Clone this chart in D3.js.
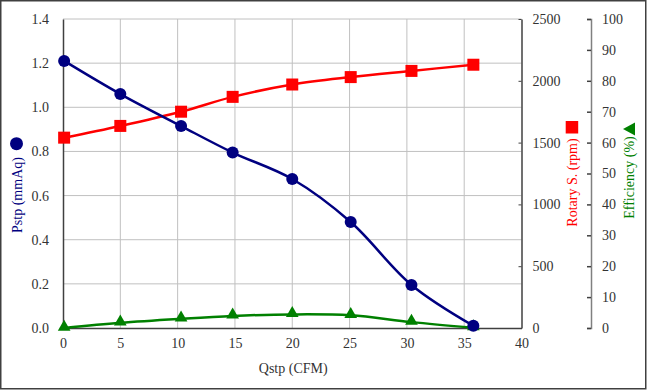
<!DOCTYPE html>
<html><head><meta charset="utf-8">
<script src="https://cdn.jsdelivr.net/npm/d3@7"></script>
<style>body{margin:0;background:#fff}svg{display:block}text{font-family:"Liberation Serif","Times New Roman","DejaVu Serif",serif}</style>
</head><body>
<script>
const flow = [0.1, 5.0, 10.3, 14.8, 20.0, 25.1, 30.4, 35.8];
const pstp = [1.21, 1.06, 0.915, 0.795, 0.675, 0.48, 0.195, 0.01];
const rpm = [1540, 1635, 1750, 1870, 1970, 2030, 2080, 2130];
const eff = [0.0, 1.7, 3.0, 3.9, 4.4, 4.1, 1.9, 0.1];
const xTicks = [0,5,10,15,20,25,30,35,40];
const pTicks = [0,0.2,0.4,0.6,0.8,1.0,1.2,1.4];
const rTicks = [0,500,1000,1500,2000,2500];
const eTicks = [0,10,20,30,40,50,60,70,80,90,100];

const FF='"Liberation Serif","Times New Roman","DejaVu Serif",serif';
const W=647,H=390;
const L=63,R=521.5,T=19,B=328;
const svg=d3.select("body").append("svg").attr("width",W).attr("height",H);
svg.append("rect").attr("x",0.75).attr("y",0.75).attr("width",645).attr("height",388).attr("fill","#fff").attr("stroke","#404040").attr("stroke-width",1.5);

const x=d3.scaleLinear().domain([0,40]).range([L,R]);
const yP=d3.scaleLinear().domain([0,1.4]).range([B,T]);
const yR=d3.scaleLinear().domain([0,2500]).range([B,T]);
const yE=d3.scaleLinear().domain([0,100]).range([B,T]);

// grid
const g=svg.append("g");
g.selectAll(".vg").data(xTicks.slice(1,-1)).join("line").attr("x1",d=>x(d)).attr("x2",d=>x(d)).attr("y1",T).attr("y2",B).attr("stroke","#c0c0c0").attr("stroke-width",1);
g.selectAll(".hg").data(pTicks.slice(1)).join("line").attr("x1",L).attr("x2",R).attr("y1",d=>yP(d)).attr("y2",d=>yP(d)).attr("stroke","#c0c0c0").attr("stroke-width",1);

const tc="#404040";
function styleText(sel){sel.attr("font-family",FF);sel.selectAll("text").attr("font-size",14).attr("fill","#333").attr("font-family",FF);}
// bottom axis
const xa=svg.append("g").attr("transform",`translate(0,${B})`).call(d3.axisBottom(x).tickValues(xTicks).tickSize(0).tickPadding(10));
xa.select(".domain").attr("stroke",tc).attr("stroke-width",1.5);
styleText(xa);
// left axis
const ya=svg.append("g").attr("transform",`translate(${L},0)`).call(d3.axisLeft(yP).tickValues(pTicks).tickFormat(d3.format(".1f")).tickSize(0).tickPadding(14));
ya.select(".domain").attr("stroke",tc).attr("stroke-width",1.5);
styleText(ya);
// right axis rpm
const ra=svg.append("g").attr("transform",`translate(${R},0)`).call(d3.axisRight(yR).tickValues(rTicks).tickFormat(d3.format("d")).tickSizeInner(-3).tickSizeOuter(0).tickPadding(11));
ra.select(".domain").attr("stroke",tc).attr("stroke-width",1.5);
ra.selectAll("line").attr("stroke",tc);
styleText(ra);
// right axis efficiency
const ea=svg.append("g").attr("transform",`translate(591,0)`).call(d3.axisRight(yE).tickValues(eTicks).tickSizeInner(-4).tickSizeOuter(-4).tickPadding(11));
ea.select(".domain").attr("stroke","#808080").attr("stroke-width",1.5);
ea.selectAll("line").attr("stroke",tc).attr("stroke-width",1.5);
styleText(ea);

const curve=d3.curveCatmullRom.alpha(0.5);
function series(vals,ys,color){
  const pts=flow.map((f,i)=>[x(f),ys(vals[i])]);
  svg.append("path").attr("d",d3.line().curve(curve)(pts)).attr("fill","none").attr("stroke",color).attr("stroke-width",2.5);
  return pts;
}
const pe=series(eff,yE,"#008000");
const pr=series(rpm,yR,"#ff0000");
const pp=series(pstp,yP,"#000080");
svg.selectAll(".sq").data(pr).join("rect").attr("x",d=>d[0]-6).attr("y",d=>d[1]-6).attr("width",12).attr("height",12).attr("fill","#ff0000");
svg.selectAll(".tri").data(pe).join("path").attr("d",d3.symbol(d3.symbolTriangle,70)).attr("transform",d=>`translate(${d[0]},${d[1]-1})`).attr("fill","#008000");
svg.selectAll(".ci").data(pp).join("circle").attr("cx",d=>d[0]).attr("cy",d=>d[1]).attr("r",6).attr("fill","#000080");

// titles
svg.append("text").attr("x",(L+R)/2+1).attr("y",373).attr("text-anchor","middle").attr("font-size",14).attr("fill","#333").attr("font-family",FF).text("Qstp (CFM)");
svg.append("text").attr("transform","translate(22,195) rotate(-90)").attr("text-anchor","middle").attr("font-size",14).attr("fill","#000080").attr("font-family",FF).text("Pstp (mmAq)");
svg.append("circle").attr("cx",16.5).attr("cy",143.7).attr("r",6.5).attr("fill","#000080");
svg.append("text").attr("transform","translate(577,182.5) rotate(-90)").attr("text-anchor","middle").attr("font-size",14).attr("fill","#ff0000").attr("font-family",FF).text("Rotary S. (rpm)");
svg.append("rect").attr("x",565.7).attr("y",121).attr("width",12.5).attr("height",12.5).attr("fill","#ff0000");
svg.append("text").attr("transform","translate(634,177.5) rotate(-90)").attr("text-anchor","middle").attr("font-size",14).attr("fill","#008000").attr("font-family",FF).text("Efficiency (%)");
svg.append("path").attr("d","M0,0L12,-6.5L12,6.5Z").attr("transform","translate(623,129)").attr("fill","#008000");
</script>
</body></html>
